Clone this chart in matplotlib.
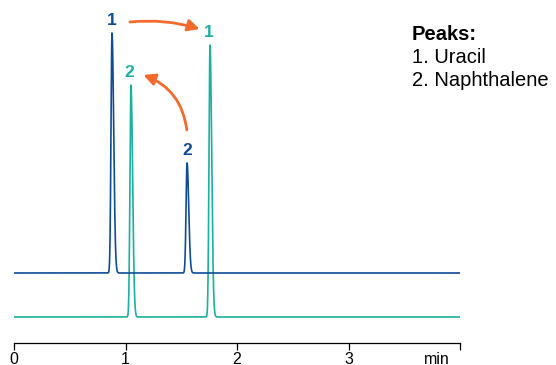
import numpy as np
import matplotlib
matplotlib.use("Agg")
import matplotlib.pyplot as plt

# Chromatogram data (retention time in min, peak height in mAU)
peak_names = ["Uracil", "Naphthalene"]
blue_times = [0.879, 1.552]
blue_heights = [24.0, 11.0]
teal_times = [1.758, 1.049]
teal_heights = [27.2, 23.2]
trace_offset = 4.4
x_ticks = [0, 1, 2, 3, 4]
x_tick_labels = ["0", "1", "2", "3", ""]

BLUE = "#0f4c97"
TEAL = "#1bb0a0"
ORANGE = "#f26b2c"

plt.rcParams["font.family"] = ["Liberation Sans", "DejaVu Sans"]

t = np.linspace(0, 4, 8000)


def peak(t, t0, h, sl=0.009, sr=0.015):
    s = np.where(t < t0, sl, sr)
    return h * np.exp(-0.5 * ((t - t0) / s) ** 2)


blue = trace_offset + sum(peak(t, t0, h) for t0, h in zip(blue_times, blue_heights))
teal = sum(peak(t, t0, h) for t0, h in zip(teal_times, teal_heights))

fig = plt.figure(figsize=(5.56, 3.65), dpi=100)
ax = fig.add_axes([14 / 556, 1 - 343 / 365, 446 / 556, 343 / 365])
ax.set_xlim(0, 4)
ax.set_ylim(-2.6, 31.7)

ax.plot(t, teal, color=TEAL, lw=1.2, solid_joinstyle="round")
ax.plot(t, blue, color=BLUE, lw=1.2, solid_joinstyle="round")

for s in ["top", "right", "left"]:
    ax.spines[s].set_visible(False)
ax.spines["bottom"].set_linewidth(0.9)
ax.set_yticks([])
ax.set_xticks(x_ticks)
ax.set_xticklabels(x_tick_labels, fontsize=11.5)
ax.tick_params(axis="x", direction="out", length=5, width=0.9, pad=1.5)
ax.annotate("min", xy=(3.79, 0), xycoords=("data", "axes fraction"),
            xytext=(0, -6.5), textcoords="offset points", ha="center", va="top",
            fontsize=11.5)

# peak numbers
lab_kw = dict(fontsize=12.5, fontweight="bold", ha="center", va="center",
              textcoords="offset points")
for i, (t0, h) in enumerate(zip(blue_times, blue_heights)):
    ax.annotate(str(i + 1), xy=(t0, h + trace_offset), xytext=(0, 9),
                color=BLUE, **lab_kw)
for i, (t0, h) in enumerate(zip(teal_times, teal_heights)):
    ax.annotate(str(i + 1), xy=(t0, h), xytext=(-1, 9), color=TEAL, **lab_kw)

# arrows showing the change in elution order
arrow_kw = dict(arrowstyle="-|>,head_length=0.7,head_width=0.35",
                color=ORANGE, lw=2.0, shrinkA=0, shrinkB=0)
ax.annotate("", xy=(1.665, 28.8), xytext=(1.04, 29.5),
            arrowprops=dict(connectionstyle="arc3,rad=-0.1", **arrow_kw))
ax.annotate("", xy=(1.16, 24.2), xytext=(1.55, 18.7),
            arrowprops=dict(connectionstyle="arc3,rad=0.3", **arrow_kw))

# peak legend
fig.text(412 / 556, 1 - 35 / 365, "Peaks:", fontsize=14.5, fontweight="bold",
         va="center", ha="left")
for i, name in enumerate(peak_names):
    fig.text(412 / 556, 1 - (57.5 + 22.5 * i) / 365, f"{i + 1}. {name}",
             fontsize=14.5, va="center", ha="left")

fig.savefig("out.png", dpi=100)
